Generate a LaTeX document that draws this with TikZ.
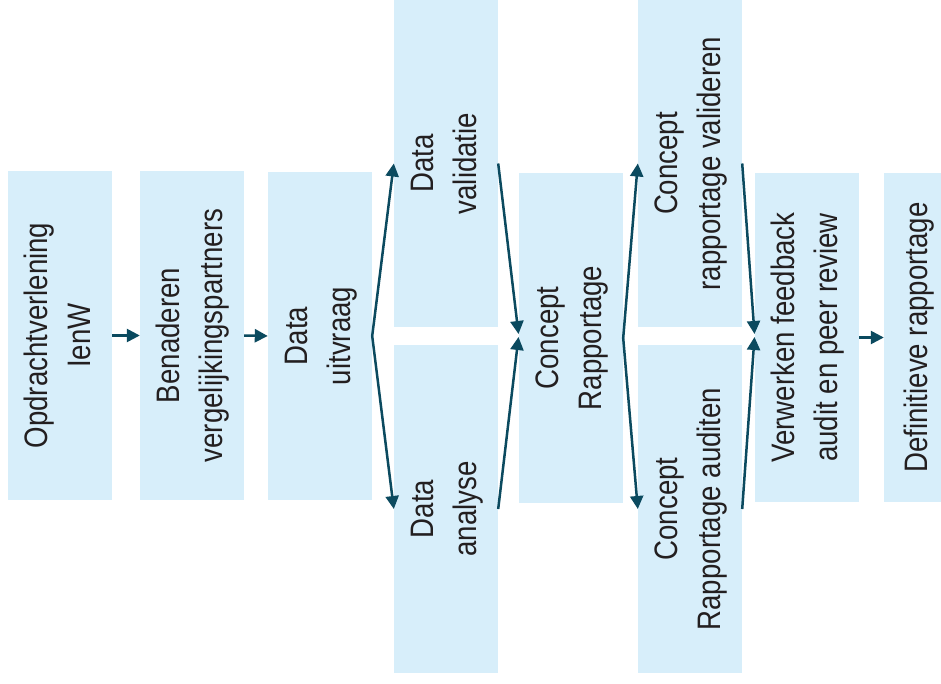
\documentclass[tikz,border=0pt]{standalone}
\usepackage{fontspec}
\setmainfont{Liberation Sans}[FakeStretch=0.85]
\usetikzlibrary{arrows.meta}
\definecolor{boxfill}{HTML}{D7EEFA}
\definecolor{arrowc}{HTML}{0B4A5F}
\definecolor{txt}{HTML}{231F20}
\newcommand{\vtext}[1]{\rotatebox{90}{\begin{tabular}{@{}c@{}}#1\end{tabular}}}
\begin{document}
\begin{tikzpicture}[x=1pt,y=-1pt,
  stepbox/.style={fill=boxfill, draw=none, inner sep=0pt, minimum width=104pt,
    minimum height=329pt, text=txt, font=\fontsize{32.5}{43}\selectfont},
  flow/.style={draw=arrowc, line width=2.5pt, -{Triangle[length=13pt,width=13pt]}},
  fork/.style={draw=arrowc, line width=2.5pt, line join=round,
    {Triangle[length=13pt,width=13pt]}-{Triangle[length=13pt,width=13pt]}}]
\useasboundingbox (0,0) rectangle (941,684);

\node[stepbox] (b1) at (60,335.5) {\vtext{Opdrachtverlening\\IenW}};
\node[stepbox] (b2) at (192,335.5) {\vtext{Benaderen\\vergelijkingspartners}};
\node[stepbox, minimum height=328pt] (b3) at (320,336) {\vtext{Data\\uitvraag}};
\node[stepbox, minimum height=327pt] (dv) at (446,163.5) {\vtext{Data\\validatie}};
\node[stepbox, minimum height=328pt] (da) at (446,509) {\vtext{Data\\analyse}};
\node[stepbox, minimum height=330pt] (cr) at (571,338) {\vtext{Concept\\Rapportage}};
\node[stepbox, minimum height=327pt] (cv) at (690,163.5) {\vtext{Concept\\rapportage valideren}};
\node[stepbox, minimum height=328pt] (ca) at (690,509) {\vtext{Concept\\Rapportage auditen}};
\node[stepbox] (vw) at (807,337.5) {\vtext{Verwerken feedback\\audit en peer review}};
\node[stepbox, minimum width=70pt] (df) at (919,337.5) {\vtext{Definitieve rapportage}};

\coordinate (m1u) at (518.5,334);
\coordinate (m1d) at (518.5,337);
\coordinate (m2u) at (754.5,334);
\coordinate (m2d) at (754.5,337);

\draw[flow] (b1.east) -- (b2.west);
\draw[flow] (b2.east) -- (b3.west);
\draw[fork] (dv.west) -- (b3.east) -- (da.west);
\draw[flow] (dv.east) -- (m1u);
\draw[flow] (da.east) -- (m1d);
\draw[fork] (cv.west) -- (cr.east) -- (ca.west);
\draw[flow] (cv.east) -- (m2u);
\draw[flow] (ca.east) -- (m2d);
\draw[flow] (vw.east) -- (df.west);
\end{tikzpicture}
\end{document}
